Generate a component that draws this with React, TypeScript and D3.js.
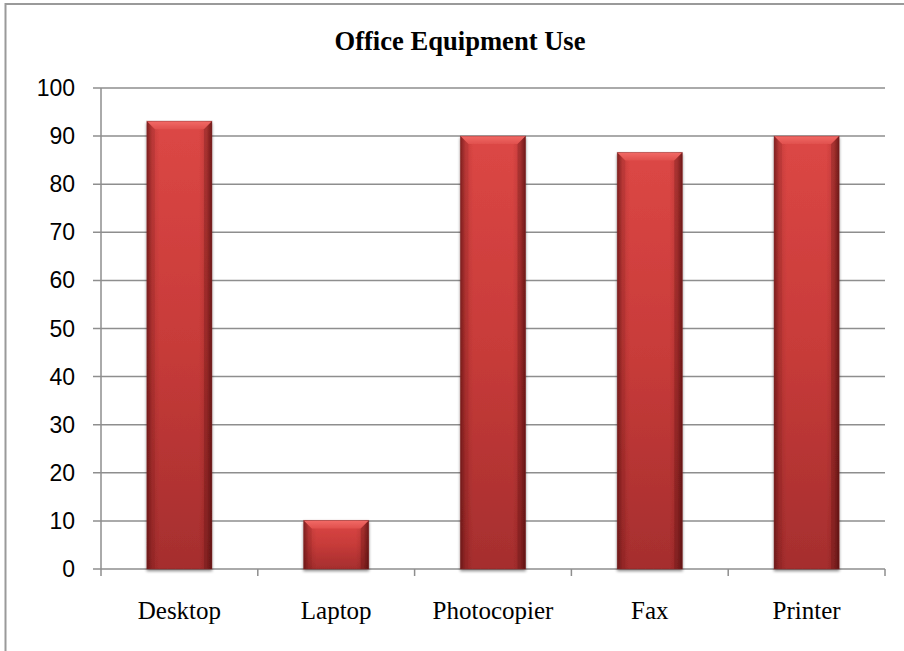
import React from "react";
import * as d3 from "d3";

const categories = ["Desktop", "Laptop", "Photocopier", "Fax", "Printer"];
const values = [93.1, 10.1, 90.0, 86.6, 90.0];
const yTicks = [0, 10, 20, 30, 40, 50, 60, 70, 80, 90, 100];
const title = "Office Equipment Use";

export default function App() {
  const W = 904;
  const H = 651;
  const left = 101;
  const right = 885;
  const top = 88;
  const bottom = 569;

  const x = d3
    .scaleBand<string>()
    .domain(categories)
    .range([left, right])
    .paddingInner(0.585)
    .paddingOuter(0.2925);
  const y = d3.scaleLinear().domain([0, 100]).range([bottom, top]);
  const step = x.step();
  const bw = x.bandwidth();
  const bevel = 8;

  return (
    <svg
      width={W}
      height={H}
      style={{ position: "absolute", left: 0, top: 0, background: "#fff" }}
    >
      <defs>
        <linearGradient id="vg" x1="0" y1="0" x2="0" y2="1">
          <stop offset="0%" stopColor="#dc4745" />
          <stop offset="50%" stopColor="#c73b39" />
          <stop offset="100%" stopColor="#a52e2e" />
        </linearGradient>
        <linearGradient id="hg" x1="0" y1="0" x2="1" y2="0">
          <stop offset="0%" stopColor="#3a0505" stopOpacity="0.55" />
          <stop offset="8%" stopColor="#3a0505" stopOpacity="0.12" />
          <stop offset="20%" stopColor="#3a0505" stopOpacity="0" />
          <stop offset="80%" stopColor="#3a0505" stopOpacity="0" />
          <stop offset="92%" stopColor="#3a0505" stopOpacity="0.15" />
          <stop offset="100%" stopColor="#3a0505" stopOpacity="0.6" />
        </linearGradient>
        <linearGradient id="topg" x1="0" y1="0" x2="0" y2="1">
          <stop offset="0%" stopColor="#f26a66" />
          <stop offset="100%" stopColor="#e0504d" />
        </linearGradient>
        <filter id="sh" x="-20%" y="-5%" width="140%" height="115%">
          <feGaussianBlur in="SourceAlpha" stdDeviation="1.5" />
          <feOffset dx="0" dy="1.5" result="b" />
          <feComponentTransfer>
            <feFuncA type="linear" slope="0.45" />
          </feComponentTransfer>
          <feMerge>
            <feMergeNode />
            <feMergeNode in="SourceGraphic" />
          </feMerge>
        </filter>
      </defs>

      <rect x={5.5} y={4} width={W + 10} height={H + 10} fill="#fff" stroke="#9a9a9a" strokeWidth={2} />

      <text
        x={460}
        y={50}
        textAnchor="middle"
        fontFamily="'Liberation Serif', 'Times New Roman', serif"
        fontWeight="bold"
        fontSize={27}
        textLength={251}
        lengthAdjust="spacingAndGlyphs"
        fill="#000"
      >
        {title}
      </text>

      {yTicks.map((t) => (
        <g key={t}>
          <line x1={93} x2={right} y1={y(t)} y2={y(t)} stroke="#8e8e8e" strokeWidth={1.5} />
          <text
            x={75}
            y={y(t)}
            dy="0.35em"
            textAnchor="end"
            fontFamily="'Liberation Sans', Arial, sans-serif"
            fontSize={23}
            fill="#000"
          >
            {t}
          </text>
        </g>
      ))}

      <line x1={left} x2={left} y1={top} y2={bottom} stroke="#8e8e8e" strokeWidth={1.5} />
      {d3.range(categories.length + 1).map((i) => (
        <line
          key={i}
          x1={left + i * step}
          x2={left + i * step}
          y1={bottom}
          y2={bottom + 7}
          stroke="#8e8e8e"
          strokeWidth={1.5}
        />
      ))}

      {categories.map((c, i) => {
        const bx = x(c)!;
        const by = y(values[i]);
        const h = bottom - by;
        return (
          <g key={c} filter="url(#sh)">
            <rect x={bx} y={by} width={bw} height={h} fill="url(#vg)" />
            <rect x={bx} y={by} width={bw} height={h} fill="url(#hg)" />
            <path
              d={`M${bx},${by} L${bx + bw},${by} L${bx + bw - bevel},${by + bevel} L${bx + bevel},${by + bevel} Z`}
              fill="url(#topg)"
            />
            <path
              d={`M${bx},${by} L${bx + bevel},${by + bevel} L${bx + bevel},${bottom} L${bx},${bottom} Z`}
              fill="#7a1c1c"
              opacity={0.18}
            />
            <path
              d={`M${bx + bw},${by} L${bx + bw - bevel},${by + bevel} L${bx + bw - bevel},${bottom} L${bx + bw},${bottom} Z`}
              fill="#4a0c0c"
              opacity={0.25}
            />
            <rect x={bx} y={by} width={bw} height={h} fill="none" stroke="#7a2a2a" strokeOpacity={0.4} strokeWidth={1} />
          </g>
        );
      })}

      {categories.map((c) => (
        <text
          key={c}
          x={x(c)! + bw / 2}
          y={619}
          textAnchor="middle"
          fontFamily="'Liberation Serif', 'Times New Roman', serif"
          fontSize={25}
          fill="#000"
        >
          {c}
        </text>
      ))}
    </svg>
  );
}
